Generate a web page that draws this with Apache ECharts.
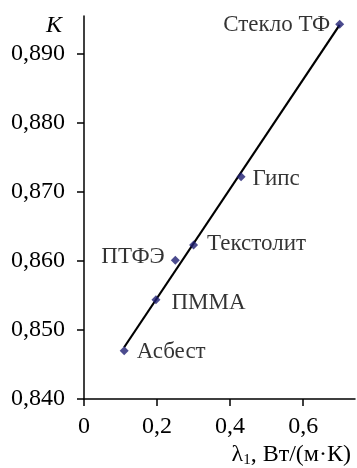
<!DOCTYPE html>
<html>
<head>
<meta charset="utf-8">
<script src="https://cdn.jsdelivr.net/npm/echarts@6/dist/echarts.min.js"></script>
<style>
  html, body { margin: 0; padding: 0; background: #fff; }
  #chart { width: 357px; height: 468px; }
</style>
</head>
<body>
<div id="chart"></div>
<script>
// материалы и их точки (λ1, K)
var materials = ['Стекло ТФ', 'Гипс', 'Текстолит', 'ПТФЭ', 'ПММА', 'Асбест'];
var lambdaValues = [0.70, 0.43, 0.30, 0.25, 0.197, 0.11];
var kValues = [0.8943, 0.8722, 0.8623, 0.8601, 0.8544, 0.847];
// линия аппроксимации
var trendX = [0.11, 0.70];
var trendY = [0.8475, 0.8942];
// подписи осей
var yTicks = [0.84, 0.85, 0.86, 0.87, 0.88, 0.89];
var xTicks = [0, 0.2, 0.4, 0.6];

// положение подписей точек
var labelPos = {
  'Стекло ТФ': { position: 'left', distance: 5, offset: [0, 1] },
  'Гипс': { position: 'right', distance: 7, offset: [0, 2] },
  'Текстолит': { position: 'right', distance: 9, offset: [0, -1] },
  'ПТФЭ': { position: 'left', distance: 6, offset: [0, -3] },
  'ПММА': { position: 'right', distance: 11, offset: [0, 3] },
  'Асбест': { position: 'right', distance: 8, offset: [0, 1] }
};

var font = '"Liberation Serif", "Times New Roman", serif';
var myChart = echarts.init(document.getElementById('chart'));

var points = materials.map(function (name, i) {
  var p = labelPos[name];
  return {
    name: name,
    value: [lambdaValues[i], kValues[i]],
    label: {
      show: true,
      formatter: name,
      position: p.position,
      distance: p.distance,
      offset: p.offset || [0, 0]
    }
  };
});

var option = {
  animation: false,
  textStyle: { fontFamily: font, color: '#000' },
  title: [
    {
      text: 'K',
      left: 41,
      top: 9,
      textStyle: { fontFamily: font, fontSize: 24, fontStyle: 'italic', fontWeight: 'normal', color: '#000' }
    },
    {
      text: 'λ{s|1}, Вт/(м·К)',
      right: 1,
      top: 437,
      textStyle: {
        fontFamily: font, fontSize: 24, fontWeight: 'normal', color: '#000',
        rich: {
          s: { fontFamily: font, fontSize: 15, verticalAlign: 'bottom', padding: [11, 0, 0, 0], color: '#000' }
        }
      }
    }
  ],
  grid: { left: 84, right: 2, top: 16, bottom: 69 },
  xAxis: {
    type: 'value',
    min: 0,
    max: 0.742,
    splitLine: { show: false },
    axisLine: { onZero: false, lineStyle: { color: '#000', width: 1.5 } },
    axisTick: { customValues: xTicks, length: 7, lineStyle: { color: '#000', width: 1.5 } },
    axisLabel: {
      customValues: xTicks,
      fontFamily: font, fontSize: 24, color: '#000', margin: 16,
      formatter: function (v) { return v === 0 ? '0' : v.toFixed(1).replace('.', ','); }
    }
  },
  yAxis: {
    type: 'value',
    min: 0.84,
    max: 0.8955,
    splitLine: { show: false },
    axisLine: { onZero: false, lineStyle: { color: '#000', width: 1.5 } },
    axisTick: { customValues: yTicks, length: 7, lineStyle: { color: '#000', width: 1.5 } },
    axisLabel: {
      customValues: yTicks,
      fontFamily: font, fontSize: 24, color: '#000', margin: 19,
      formatter: function (v) { return v.toFixed(3).replace('.', ','); }
    }
  },
  series: [
    {
      type: 'line',
      data: trendX.map(function (x, i) { return [x, trendY[i]]; }),
      symbol: 'none',
      lineStyle: { color: '#000', width: 2.2 },
      z: 2
    },
    {
      type: 'scatter',
      data: points,
      symbol: 'diamond',
      symbolSize: 9,
      itemStyle: { color: '#1e1e72' },
      label: { fontFamily: font, fontSize: 23, color: '#000' },
      z: 3
    }
  ]
};

myChart.setOption(option);
</script>
</body>
</html>
